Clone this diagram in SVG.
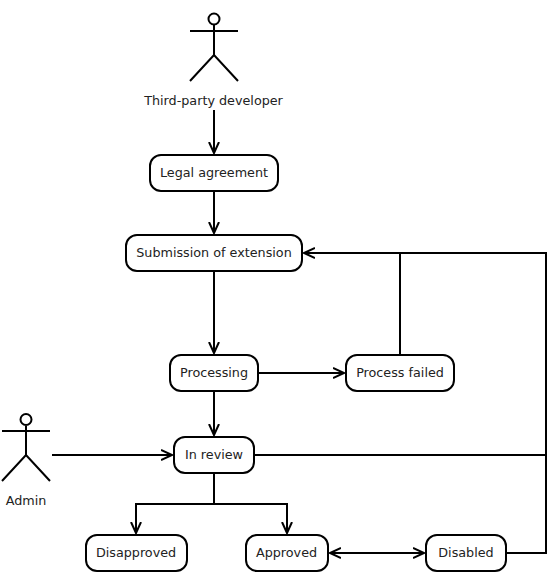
<svg xmlns="http://www.w3.org/2000/svg" width="549" height="573" viewBox="0 0 549 573">
<style>
text{font-family:"DejaVu Sans",sans-serif;font-size:12.75px;fill:#222;text-anchor:middle}
.n{fill:#fff;stroke:#000;stroke-width:2}
.a{fill:none;stroke:#000;stroke-width:2}
.c{fill:none;stroke:#000;stroke-width:2}
</style>
<defs>
<marker id="o" markerUnits="userSpaceOnUse" markerWidth="14" markerHeight="14" refX="11" refY="7" orient="auto-start-reverse"><path d="M0 2L11 7L0 12" fill="none" stroke="#000" stroke-width="2"/></marker>
</defs>
<rect width="549" height="573" fill="#fff"/>
<g id="connectors" class="c">
<path d="M214 110V153" marker-end="url(#o)"/>
<path d="M214 191V233" marker-end="url(#o)"/>
<path d="M214 271V353" marker-end="url(#o)"/>
<path d="M214 391V435" marker-end="url(#o)"/>
<path d="M258 373H344" marker-end="url(#o)"/>
<path d="M400 355V253H304" marker-end="url(#o)"/>
<path d="M52 455H172" marker-end="url(#o)"/>
<path d="M255 455H546"/>
<path d="M506 553H546V253H304"/>
<path d="M214 473V504H136V533" marker-end="url(#o)"/>
<path d="M214 504H287V533" marker-end="url(#o)"/>
<path d="M330 553H424" marker-start="url(#o)" marker-end="url(#o)"/>
</g>
<g id="actor-developer">
<circle class="a" cx="214" cy="19" r="5.500"/>
<path class="a" d="M214 25V55M190 31H238M190 81L214 55L238 81"/>
<text x="213.500" y="105">Third-party developer</text>
</g>
<g id="actor-admin">
<circle class="a" cx="26" cy="419.500" r="5.500"/>
<path class="a" d="M26 426V455M2 431H50M2 481L26 455L50 481"/>
<text x="26" y="505">Admin</text>
</g>
<g id="legal"><rect class="n" x="150" y="155" width="128" height="36" rx="11"/><text x="214" y="177">Legal agreement</text></g>
<g id="submission"><rect class="n" x="126" y="235" width="176" height="36" rx="11"/><text x="214" y="257">Submission of extension</text></g>
<g id="processing"><rect class="n" x="170" y="355" width="88" height="36" rx="11"/><text x="214" y="377">Processing</text></g>
<g id="failed"><rect class="n" x="346" y="355" width="108" height="36" rx="11"/><text x="400" y="377">Process failed</text></g>
<g id="review"><rect class="n" x="174" y="437" width="80" height="36" rx="11"/><text x="214" y="459">In review</text></g>
<g id="disapproved"><rect class="n" x="86" y="535" width="101" height="36" rx="11"/><text x="136" y="557">Disapproved</text></g>
<g id="approved"><rect class="n" x="246" y="535" width="82" height="36" rx="11"/><text x="286.500" y="557">Approved</text></g>
<g id="disabled"><rect class="n" x="426" y="535" width="80" height="36" rx="11"/><text x="466" y="557">Disabled</text></g>
</svg>
